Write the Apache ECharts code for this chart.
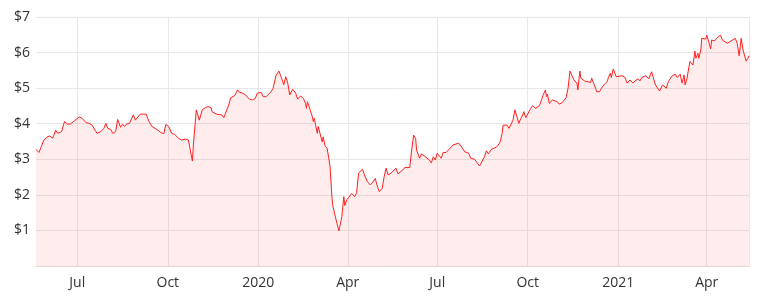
<!DOCTYPE html>
<html>
<head>
<meta charset="utf-8">
<script src="https://cdn.jsdelivr.net/npm/echarts@6/dist/echarts.min.js"></script>
<style>
html,body{margin:0;padding:0;background:#fff;}
#chart{width:759px;height:296px;}
</style>
</head>
<body>
<div id="chart"></div>
<script>
// Start date of the series; dayOffsets are calendar days after it
const startDate = [2019, 4, 20]; // 2019-05-20
const dayOffsets = [0,3,5,8,11,14,17,20,22,26,29,32,35,39,44,47,51,54,57,59,62,66,69,71,73,76,78,81,83,84,86,88,90,92,95,97,99,101,103,106,108,112,115,118,121,124,127,130,132,135,138,141,145,148,152,155,157,159,160,163,164,166,169,172,175,178,179,182,185,189,191,193,196,198,200,202,205,207,210,213,214,217,220,223,225,227,229,231,234,236,239,241,244,247,249,252,254,256,258,261,264,266,269,272,274,275,276,278,281,282,283,286,287,289,291,292,294,296,298,299,301,302,304,306,308,310,311,313,314,316,318,319,321,324,326,328,330,332,334,336,337,340,342,345,347,349,352,354,356,358,361,363,366,368,370,373,375,376,380,382,384,386,387,390,392,395,397,400,402,404,406,408,410,412,414,417,420,424,427,430,433,436,440,442,443,446,448,451,453,456,458,460,463,465,468,470,472,474,475,479,481,483,485,487,489,491,493,495,496,498,500,503,505,508,509,512,514,516,518,519,520,522,525,527,530,532,535,537,539,541,543,545,547,548,550,551,553,554,556,558,560,564,565,567,569,570,573,575,578,581,582,584,585,587,588,590,592,596,599,601,604,607,609,612,614,616,618,620,623,626,628,630,632,634,637,639,641,643,647,648,650,652,655,657,659,660,662,664,665,668,670,671,673,674,676,677,679,681,682,684,686,687,690,692,694,696,698,700,703,705,708,711,713,715,717,719,721,722,724,725];
const prices = [3.28,3.19,3.33,3.54,3.62,3.66,3.59,3.82,3.73,3.78,4.06,3.99,3.99,4.08,4.19,4.15,4.03,4.01,3.96,3.92,3.73,3.78,3.87,4.01,3.87,3.84,3.73,3.78,4.12,4.08,3.90,3.99,3.92,3.99,4.01,4.06,4.25,4.10,4.15,4.27,4.31,4.27,4.06,3.92,3.87,3.82,3.75,3.72,3.98,3.92,3.73,3.70,3.59,3.54,3.57,3.54,3.51,2.95,3.40,4.39,4.34,4.10,4.39,4.45,4.48,4.45,4.34,4.29,4.26,4.25,4.17,4.22,4.53,4.73,4.76,4.79,4.95,4.88,4.86,4.81,4.86,4.69,4.67,4.71,4.86,4.81,4.88,4.76,4.76,4.81,4.90,4.99,5.35,5.48,5.33,5.10,5.32,5.14,4.81,4.97,4.86,4.69,4.78,4.71,4.57,4.43,4.62,4.60,4.20,4.06,4.15,3.73,3.92,3.96,3.49,3.63,3.37,3.31,2.98,2.79,1.90,1.67,1.62,1.20,0.99,0.98,1.39,1.95,1.70,1.86,1.93,1.90,2.04,1.95,2.06,2.61,2.62,2.72,2.56,2.51,2.37,2.28,2.34,2.46,2.25,2.09,2.18,2.51,2.75,2.56,2.61,2.62,2.75,2.59,2.60,2.70,2.77,2.81,2.77,3.26,3.68,3.59,3.26,3.03,3.15,3.09,3.07,2.98,2.90,3.07,2.98,3.17,3.21,3.03,3.19,3.19,3.28,3.40,3.43,3.45,3.34,3.21,3.17,3.03,3.07,3.00,2.96,2.81,2.84,3.07,3.24,3.15,3.28,3.31,3.34,3.40,3.49,3.73,3.96,3.96,3.87,3.87,4.10,4.39,4.20,4.01,4.15,4.25,4.34,4.17,4.17,4.43,4.51,4.43,4.39,4.51,4.67,4.83,4.95,4.76,4.83,4.57,4.67,4.62,4.62,4.55,4.59,4.57,4.73,5.00,5.48,5.35,5.23,5.26,5.14,4.95,5.48,5.28,5.32,5.20,5.19,5.16,5.28,5.14,5.00,4.90,4.90,5.00,5.11,5.19,5.30,5.42,5.30,5.54,5.56,5.32,5.35,5.35,5.30,5.14,5.23,5.14,5.20,5.26,5.20,5.30,5.32,5.35,5.26,5.46,5.26,5.09,5.11,4.92,5.09,5.07,5.00,5.19,5.35,5.30,5.39,5.30,5.39,5.14,5.37,5.09,5.28,5.61,5.75,5.65,6.04,5.84,5.98,5.84,6.07,6.40,6.35,6.38,6.49,6.31,6.10,6.35,6.33,6.40,6.38,6.49,6.35,6.33,6.26,6.31,6.35,6.40,6.26,5.91,6.40,6.07,6.02,5.76,5.84,5.91];
const monthNames = ['Jan','Feb','Mar','Apr','May','Jun','Jul','Aug','Sep','Oct','Nov','Dec'];
const yTicks = [0, 7, 1]; // min, max, step in dollars

const seriesData = dayOffsets.map((d, i) => [
  new Date(startDate[0], startDate[1], startDate[2] + d).getTime(),
  prices[i]
]);

const FONT = '"Open Sans", Lato, sans-serif';
const chart = echarts.init(document.getElementById('chart'), null, {renderer: 'canvas'});
chart.setOption({
  animation: false,
  backgroundColor: '#ffffff',
  grid: {left: 36, right: 10, top: 17, bottom: 30, containLabel: false},
  xAxis: {
    type: 'time',
    min: 'dataMin',
    max: 'dataMax',
    splitNumber: 8,
    minInterval: 100 * 86400000,
    maxInterval: 100 * 86400000,
    axisLine: {show: true, lineStyle: {color: '#e2d4d4', width: 1}},
    axisTick: {show: false},
    splitLine: {show: true, showMinLine: false, showMaxLine: true, lineStyle: {color: '#e8e8e8', width: 1}},
    axisLabel: {
      showMinLabel: false,
      showMaxLabel: false,
      margin: 10,
      color: '#333',
      fontFamily: FONT,
      fontSize: 14,
      formatter: function (v) {
        const d = new Date(v);
        return d.getMonth() === 0 ? String(d.getFullYear()) : monthNames[d.getMonth()];
      }
    }
  },
  yAxis: {
    type: 'value',
    min: yTicks[0],
    max: yTicks[1],
    interval: yTicks[2],
    axisLine: {show: false},
    axisTick: {show: false},
    splitLine: {show: true, lineStyle: {color: '#e8e8e8', width: 1}},
    axisLabel: {
      margin: 6,
      color: '#333',
      fontFamily: FONT,
      fontSize: 14,
      formatter: function (v) { return v === 0 ? '' : '$' + v; }
    }
  },
  series: [{
    type: 'line',
    data: seriesData,
    showSymbol: false,
    symbol: 'none',
    lineStyle: {color: '#ff1f1f', width: 1},
    areaStyle: {color: 'rgba(255,0,0,0.1)'},
    itemStyle: {color: '#ff1f1f'}
  }]
});
</script>
</body>
</html>
